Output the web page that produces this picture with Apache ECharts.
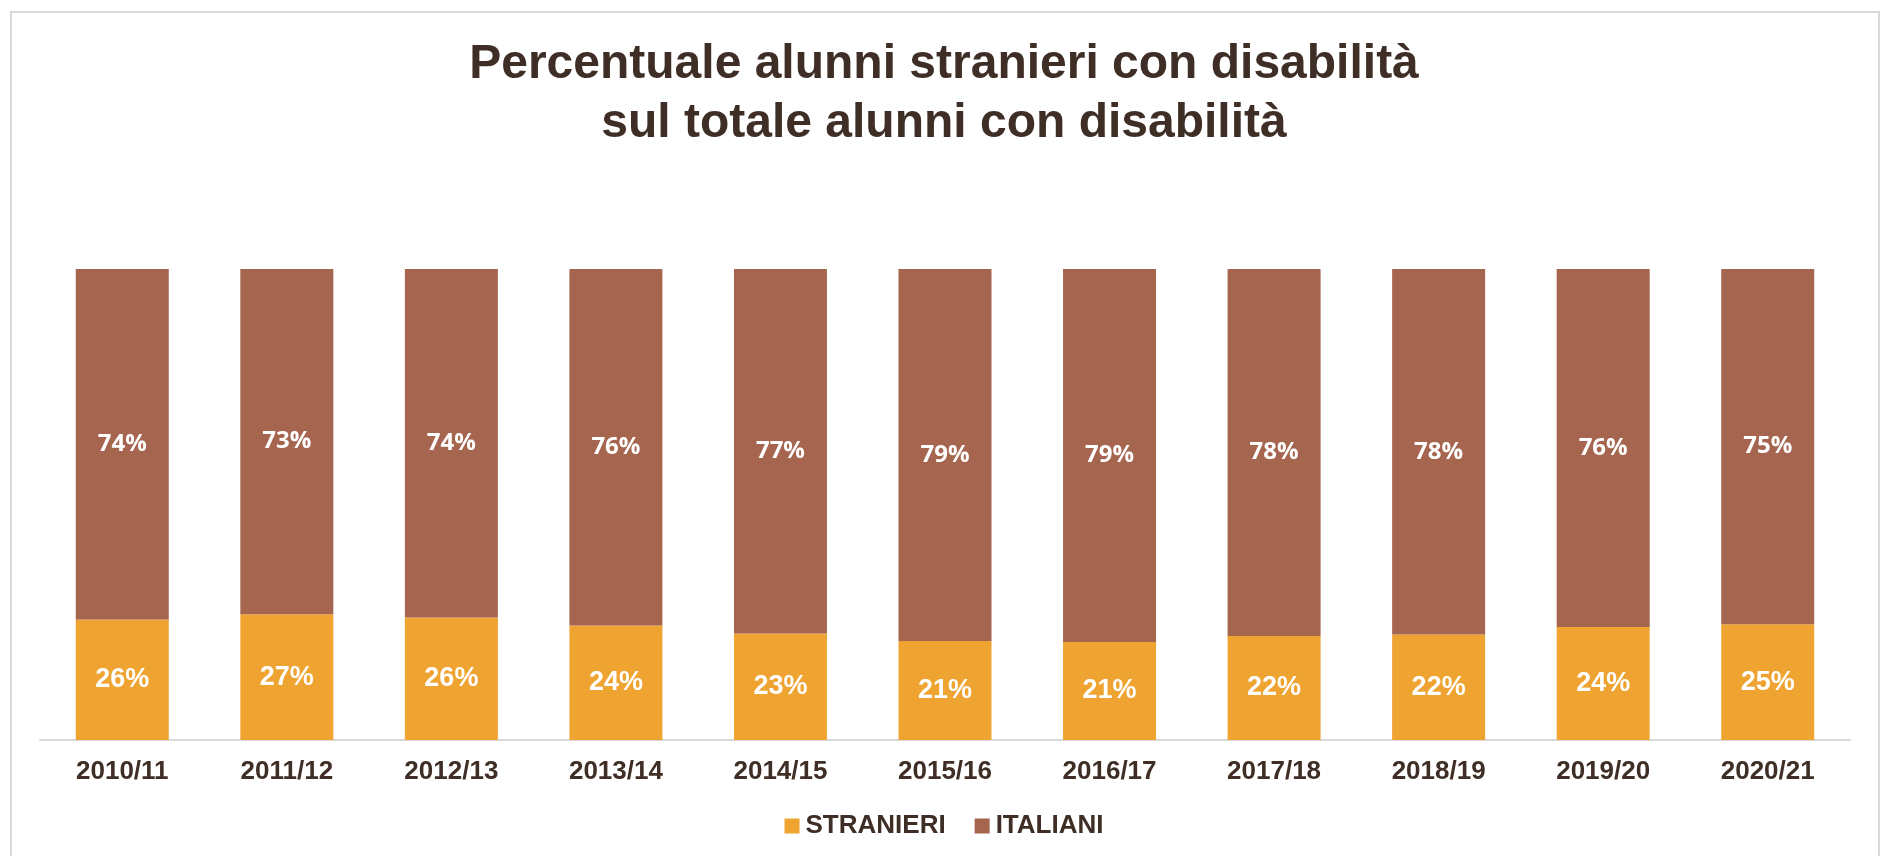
<!DOCTYPE html>
<html>
<head>
<meta charset="utf-8">
<script src="https://cdn.jsdelivr.net/npm/echarts@6/dist/echarts.min.js"></script>
<style>
html,body{margin:0;padding:0;background:#fff;}
#chart{width:1888px;height:856px;}
</style>
</head>
<body>
<div id="chart"></div>
<script>
const titleText = 'Percentuale alunni stranieri con disabilità\nsul totale alunni con disabilità';
const categories = ['2010/11','2011/12','2012/13','2013/14','2014/15','2015/16','2016/17','2017/18','2018/19','2019/20','2020/21'];
const stranieri = [25.6, 26.7, 26.0, 24.3, 22.6, 21.0, 20.8, 22.1, 22.4, 24.0, 24.6];
const italiani  = [74.4, 73.3, 74.0, 75.7, 77.4, 79.0, 79.2, 77.9, 77.6, 76.0, 75.4];
const seriesNames = ['STRANIERI', 'ITALIANI'];

const textColor = '#3F2E25';
const chart = echarts.init(document.getElementById('chart'), null, {renderer: 'canvas'});
const fmt = p => Math.round(p.value) + '%';

chart.setOption({
  backgroundColor: '#ffffff',
  animation: false,
  graphic: [{
    type: 'rect',
    shape: {x: 11, y: 12, width: 1868, height: 870},
    style: {fill: 'none', stroke: '#D9D9D9', lineWidth: 2},
    silent: true, z: -1
  }],
  title: {
    text: titleText,
    left: 'center',
    top: 35,
    padding: 0,
    textStyle: {
      fontFamily: 'Liberation Sans, Arial, sans-serif',
      fontSize: 48,
      fontWeight: 'bold',
      color: textColor,
      lineHeight: 59
    }
  },
  legend: {
    data: seriesNames,
    left: 'center',
    top: 813,
    icon: 'rect',
    itemWidth: 15,
    itemHeight: 15,
    itemGap: 29,
    padding: 0,
    textStyle: {
      fontFamily: 'Liberation Sans, Arial, sans-serif',
      fontSize: 26,
      fontWeight: 'bold',
      color: textColor,
      lineHeight: 26,
      padding: [0, 0, 0, 1]
    }
  },
  grid: {left: 40, right: 38, top: 269, bottom: 116, containLabel: false},
  xAxis: {
    type: 'category',
    data: categories,
    axisLine: {lineStyle: {color: '#D9D9D9', width: 2}},
    axisTick: {show: false},
    axisLabel: {
      fontFamily: 'Liberation Sans, Arial, sans-serif',
      fontSize: 26,
      fontWeight: 'bold',
      color: textColor,
      margin: 19,
      interval: 0
    }
  },
  yAxis: {
    type: 'value',
    min: 0,
    max: 100,
    show: false,
    splitLine: {show: false}
  },
  series: [{
    name: seriesNames[0],
    type: 'bar',
    stack: 'tot',
    data: stranieri,
    barWidth: 93,
    itemStyle: {color: '#EFA330'},
    label: {
      show: true,
      position: 'inside',
      formatter: fmt,
      color: '#ffffff',
      fontFamily: 'Liberation Sans, Arial, sans-serif',
      fontSize: 27,
      fontWeight: 'bold'
    }
  }, {
    name: seriesNames[1],
    type: 'bar',
    stack: 'tot',
    data: italiani,
    barWidth: 93,
    itemStyle: {color: '#A5654F'},
    label: {
      show: true,
      position: 'inside',
      formatter: fmt,
      color: '#ffffff',
      fontFamily: 'Open Sans, sans-serif',
      fontSize: 24,
      fontWeight: 'bold'
    }
  }]
});
</script>
</body>
</html>
